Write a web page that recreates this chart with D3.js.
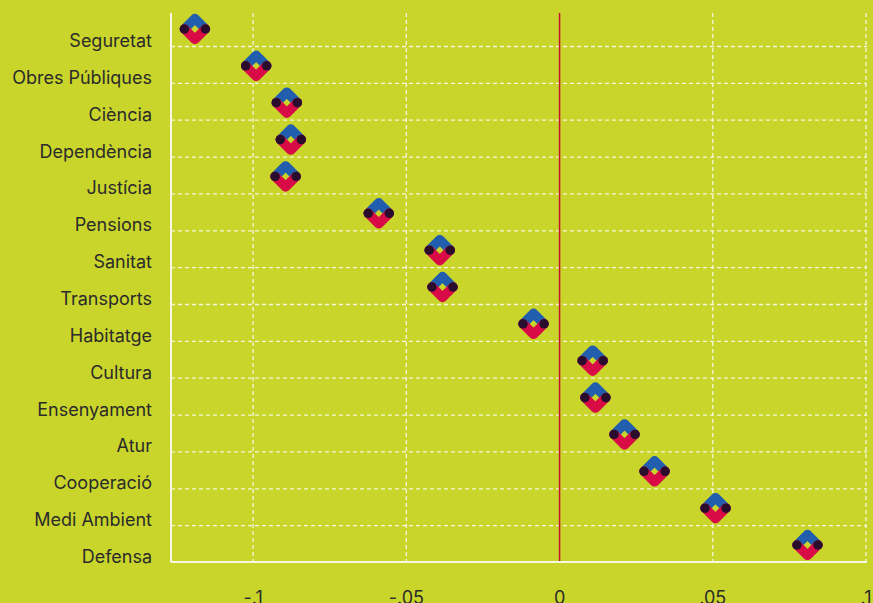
<!DOCTYPE html>
<html>
<head>
<meta charset="utf-8">
<script src="https://cdn.jsdelivr.net/npm/d3@7"></script>
<style>
  html, body { margin: 0; padding: 0; background: #c9d52b; overflow: hidden; }
  svg { display: block; font-family: Inter, Roboto, sans-serif; }
</style>
</head>
<body>
<script>
// categories top to bottom
const categories = ['Seguretat', 'Obres Públiques', 'Ciència', 'Dependència', 'Justícia', 'Pensions',
  'Sanitat', 'Transports', 'Habitatge', 'Cultura', 'Ensenyament', 'Atur', 'Cooperació', 'Medi Ambient', 'Defensa']
const values = [-0.119, -0.099, -0.089, -0.0877, -0.0894, -0.059, -0.0391, -0.0382, -0.0085,
  0.0108, 0.0117, 0.0212, 0.031, 0.0509, 0.0809]
const tickValues = [-0.1, -0.05, 0, 0.05, 0.1]
const tickLabels = ['-.1', '-.05', '0', '.05', '.1']

const w = 873
const h = 603
const pLeft = 171
const pRight = 867
const pTop = 13
const pBottom = 562

const svg = d3.select('body').append('svg')
  .attr('width', w)
  .attr('height', h)

svg.append('rect').attr('width', w).attr('height', h).attr('fill', '#c9d52b')

const xScale = d3.scaleLinear()
  .domain([-0.1268, 0.1])
  .range([pLeft, pRight - 1])

const yScale = d3.scalePoint()
  .domain(categories)
  .range([29, 545])

const grid = '#f4f6dc'

// horizontal dashed gridlines between rows
svg.selectAll('line.hgrid')
  .data(categories.slice(0, -1))
  .enter()
  .append('line')
  .attr('class', 'hgrid')
  .attr('x1', pLeft)
  .attr('x2', pRight)
  .attr('y1', d => yScale(d) + 17.5)
  .attr('y2', d => yScale(d) + 17.5)
  .attr('stroke', grid)
  .attr('stroke-width', 1.3)
  .attr('stroke-dasharray', '4,3')

// vertical dashed gridlines
svg.selectAll('line.vgrid')
  .data(tickValues.filter(d => d !== 0))
  .enter()
  .append('line')
  .attr('class', 'vgrid')
  .attr('x1', d => xScale(d))
  .attr('x2', d => xScale(d))
  .attr('y1', pTop)
  .attr('y2', pBottom)
  .attr('stroke', grid)
  .attr('stroke-width', 1.3)
  .attr('stroke-dasharray', '4,3')

// zero line
svg.append('line')
  .attr('x1', xScale(0)).attr('x2', xScale(0))
  .attr('y1', pTop).attr('y2', pBottom)
  .attr('stroke', '#c8102e')
  .attr('stroke-width', 1.5)

// axis frame
svg.append('line')
  .attr('x1', pLeft).attr('x2', pLeft)
  .attr('y1', pTop).attr('y2', pBottom)
  .attr('stroke', '#f7f7e6').attr('stroke-width', 2)
svg.append('line')
  .attr('x1', pLeft).attr('x2', pRight)
  .attr('y1', pBottom).attr('y2', pBottom)
  .attr('stroke', '#f7f7e6').attr('stroke-width', 2)

// category labels
svg.selectAll('text.cat')
  .data(categories)
  .enter()
  .append('text')
  .attr('class', 'cat')
  .attr('x', 152)
  .attr('y', d => yScale(d) + 18)
  .attr('text-anchor', 'end')
  .attr('font-size', 18)
  .attr('fill', '#2b2b2b')
  .text(d => d)

// x tick labels
svg.selectAll('text.tick')
  .data(tickValues)
  .enter()
  .append('text')
  .attr('class', 'tick')
  .attr('x', d => xScale(d))
  .attr('y', 604)
  .attr('text-anchor', 'middle')
  .attr('font-size', 18)
  .attr('fill', '#2b2b2b')
  .text((d, i) => tickLabels[i])

// markers
const r = 10.5
const marks = svg.selectAll('g.mark')
  .data(categories)
  .enter()
  .append('g')
  .attr('class', 'mark')
  .attr('transform', (d, i) => `translate(${xScale(values[i])},${yScale(d)})`)

marks.append('path')
  .attr('d', `M${-r},0L0,${-r}L${r},0`)
  .attr('fill', 'none')
  .attr('stroke', '#215fae')
  .attr('stroke-width', 9.5)
  .attr('stroke-linejoin', 'round')
  .attr('stroke-linecap', 'round')
marks.append('path')
  .attr('d', `M${-r},0L0,${r}L${r},0`)
  .attr('fill', 'none')
  .attr('stroke', '#d80b47')
  .attr('stroke-width', 9.5)
  .attr('stroke-linejoin', 'round')
  .attr('stroke-linecap', 'round')
marks.selectAll('circle')
  .data([-r, r])
  .enter()
  .append('circle')
  .attr('cx', d => d)
  .attr('cy', 0)
  .attr('r', 4.75)
  .attr('fill', '#2a0c2c')
</script>
</body>
</html>
